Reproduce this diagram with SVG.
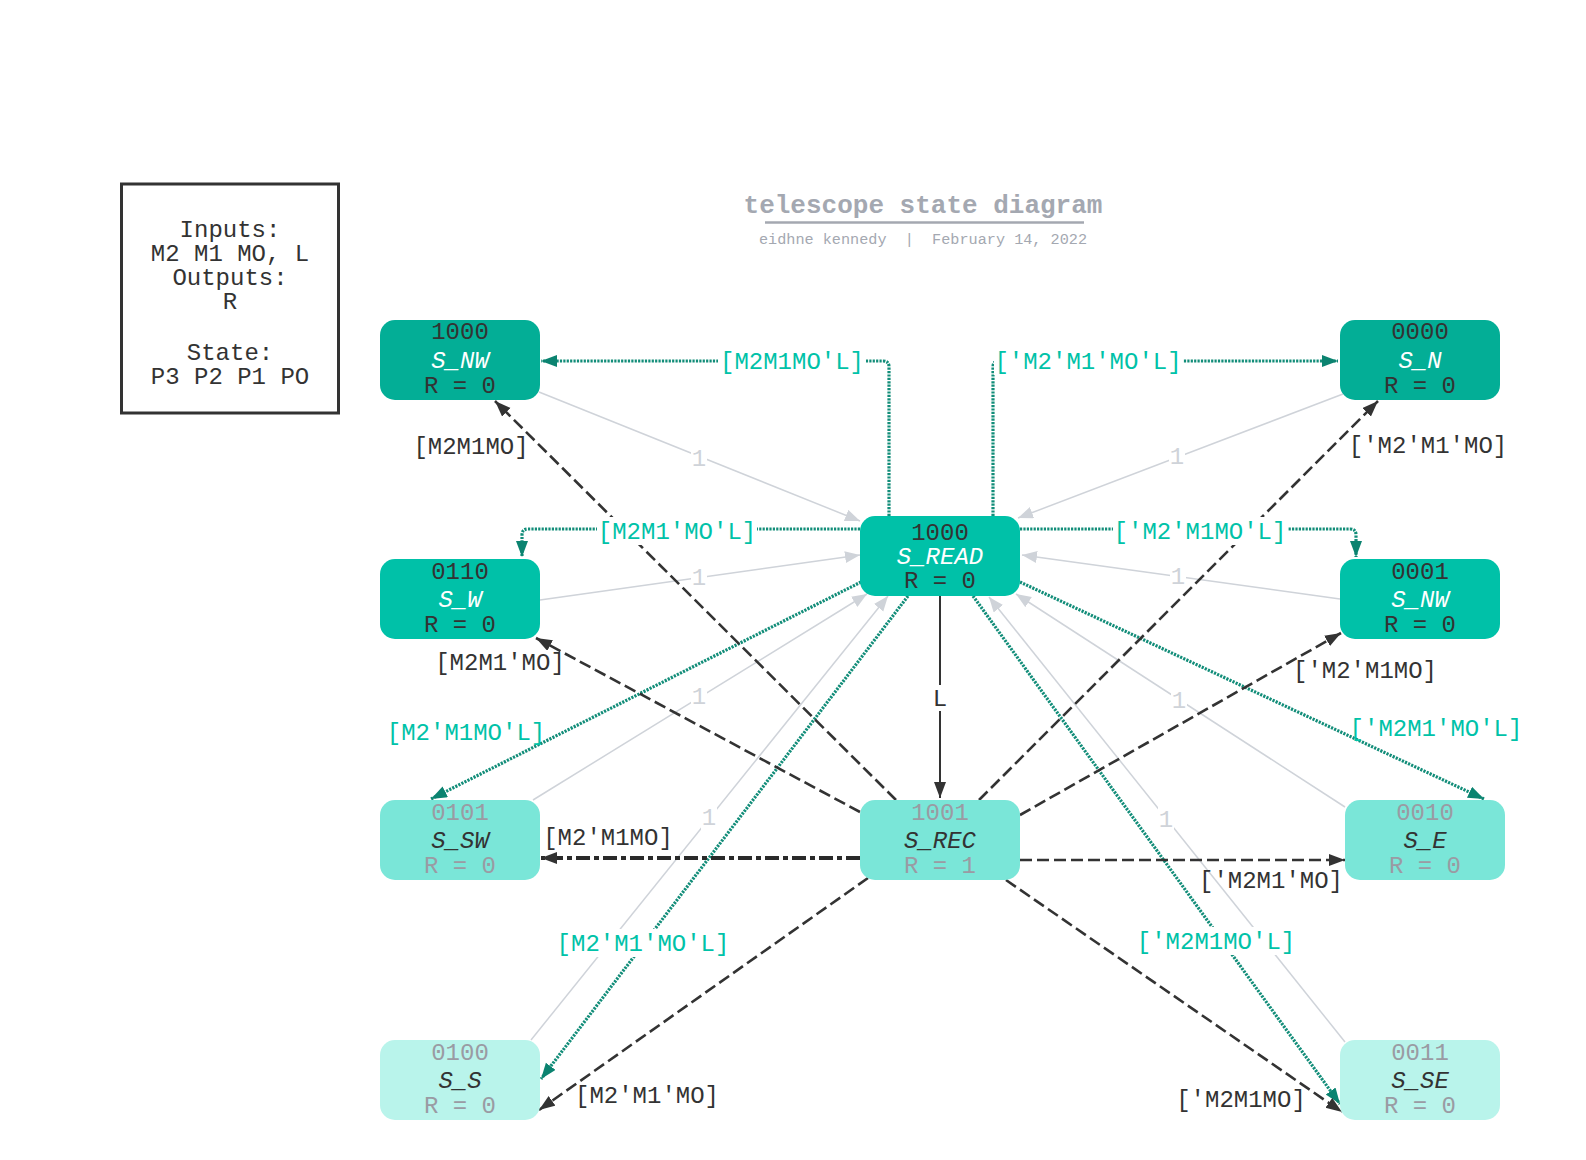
<svg xmlns="http://www.w3.org/2000/svg" width="1586" height="1160" viewBox="0 0 1586 1160">
<style>
text{font-family:"Liberation Mono","DejaVu Sans Mono",monospace;text-anchor:middle}
.code{font-size:24px}
.name{font-size:24px;font-style:italic}
.dk{fill:#333333}
.wh{fill:#ffffff}
.lt{fill:#9a9ba3}
.grey{fill:none;stroke:#cfd3d9;stroke-width:1.5;marker-end:url(#ag)}
.teal{fill:none;stroke:#128d79;stroke-width:3.2;stroke-dasharray:2.2 1.2;marker-end:url(#at)}
.blk{fill:none;stroke:#333333;stroke-width:2.6;stroke-dasharray:12 5;marker-end:url(#ab)}
.blk2{fill:none;stroke:#2a2a2a;stroke-width:4;stroke-dasharray:14 4 5 4;marker-end:url(#ab)}
.solid{fill:none;stroke:#333333;stroke-width:2;marker-end:url(#ab)}
.tl{font-size:24px;fill:#00c2a8}
.bl{font-size:24px;fill:#333333}
.gl{font-size:24px;fill:#cfd3d9}
.bg{fill:#ffffff}
</style>
<defs>
<marker id="ab" markerUnits="userSpaceOnUse" markerWidth="18" markerHeight="14" refX="16" refY="6" orient="auto"><path d="M0,0 L16,6 L0,12 z" fill="#333333"/></marker>
<marker id="at" markerUnits="userSpaceOnUse" markerWidth="18" markerHeight="14" refX="16" refY="6" orient="auto"><path d="M0,0 L16,6 L0,12 z" fill="#0b8370"/></marker>
<marker id="ag" markerUnits="userSpaceOnUse" markerWidth="18" markerHeight="14" refX="15" refY="6" orient="auto"><path d="M0,0 L15,6 L0,12 z" fill="#cfd3d9"/></marker>
</defs>
<rect width="1586" height="1160" fill="#ffffff"/>

<g id="title">
<text x="923" y="213" style="font-size:26px;font-weight:bold;fill:#a4a8b1">telescope state diagram</text>
<line x1="765" y1="222.5" x2="1084" y2="222.5" stroke="#a4a8b1" stroke-width="2.5"/>
<text x="923" y="244" style="font-size:15.2px;fill:#a4a8b1" xml:space="preserve">eidhne kennedy  |  February 14, 2022</text>
</g>

<g id="legend">
<rect x="121.5" y="184" width="217" height="229" fill="#ffffff" stroke="#333333" stroke-width="3"/>
<text class="code dk" x="230" y="237">Inputs:</text>
<text class="code dk" x="230" y="261">M2 M1 MO, L</text>
<text class="code dk" x="230" y="285">Outputs:</text>
<text class="code dk" x="230" y="309">R</text>
<text class="code dk" x="230" y="360">State:</text>
<text class="code dk" x="230" y="384">P3 P2 P1 PO</text>
</g>

<g id="connectors">
<!-- grey "1" edges back to S_READ -->
<path class="grey" d="M539,392 L860,521"/>
<path class="grey" d="M1343,394 L1018,518"/>
<path class="grey" d="M540,600 L860,555"/>
<path class="grey" d="M1340,599 L1022,555"/>
<path class="grey" d="M533,800 L867,594"/>
<path class="grey" d="M1345,807 L1016,594"/>
<path class="grey" d="M531,1040 L888,596"/>
<path class="grey" d="M1345,1042 L989,597"/>
<!-- teal dotted edges from S_READ -->
<path class="teal" d="M889,516 V367 Q889,361 883,361 H541"/>
<path class="teal" d="M993,516 V367 Q993,361 999,361 H1338"/>
<path class="teal" d="M860,529 H528 Q522,529 522,535 V557"/>
<path class="teal" d="M1020,529 H1350 Q1356,529 1356,535 V557"/>
<path class="teal" d="M861,582 L431,799"/>
<path class="teal" d="M1020,582 L1484,799"/>
<path class="teal" d="M908,596 L541,1079"/>
<path class="teal" d="M973,596 L1340,1104"/>
<!-- L -->
<path class="solid" d="M940,596 V798"/>
<!-- black dashed edges from S_REC -->
<path class="blk" d="M896,800 L495,401"/>
<path class="blk" d="M979,800 L1378,401"/>
<path class="blk" d="M860,812 L536,638"/>
<path class="blk" d="M1020,815 L1341,633"/>
<path class="blk2" d="M860,858 L541,858"/>
<path class="blk" d="M1020,860 L1345,860"/>
<path class="blk" d="M868,878 L539,1110"/>
<path class="blk" d="M1006,880 L1342,1112"/>

<!-- label backgrounds -->
<rect class="bg" x="718" y="347" width="148" height="28"/>
<rect class="bg" x="994" y="347" width="189" height="28"/>
<rect class="bg" x="597" y="517" width="160" height="28"/>
<rect class="bg" x="1113" y="517" width="175" height="28"/>
<rect class="bg" x="556" y="929" width="175" height="28"/>
<rect class="bg" x="1136" y="927" width="160" height="28"/>
<rect class="bg" x="931" y="685" width="18" height="26"/>
<rect class="bg" x="691" y="445" width="16" height="26"/>
<rect class="bg" x="1169" y="443" width="16" height="26"/>
<rect class="bg" x="691" y="564" width="16" height="26"/>
<rect class="bg" x="1170" y="563" width="16" height="26"/>
<rect class="bg" x="691" y="683" width="16" height="26"/>
<rect class="bg" x="1171" y="687" width="16" height="26"/>
<rect class="bg" x="701" y="804" width="16" height="26"/>
<rect class="bg" x="1158" y="806" width="16" height="26"/>

<!-- labels -->
<text class="gl" x="699" y="466">1</text>
<text class="gl" x="1177" y="464">1</text>
<text class="gl" x="699" y="585">1</text>
<text class="gl" x="1178" y="584">1</text>
<text class="gl" x="699" y="704">1</text>
<text class="gl" x="1179" y="708">1</text>
<text class="gl" x="709" y="825">1</text>
<text class="gl" x="1166" y="827">1</text>

<text class="tl" x="792" y="369">[M2M1MO'L]</text>
<text class="tl" x="1088" y="369">['M2'M1'MO'L]</text>
<text class="tl" x="677" y="539">[M2M1'MO'L]</text>
<text class="tl" x="1200" y="539">['M2'M1MO'L]</text>
<text class="tl" x="466" y="740">[M2'M1MO'L]</text>
<text class="tl" x="1436" y="736">['M2M1'MO'L]</text>
<text class="tl" x="643" y="951">[M2'M1'MO'L]</text>
<text class="tl" x="1216" y="949">['M2M1MO'L]</text>

<text class="bl" x="940" y="706">L</text>
<text class="bl" x="471" y="454">[M2M1MO]</text>
<text class="bl" x="1428" y="453">['M2'M1'MO]</text>
<text class="bl" x="500" y="670">[M2M1'MO]</text>
<text class="bl" x="1365" y="678">['M2'M1MO]</text>
<text class="bl" x="608" y="845">[M2'M1MO]</text>
<text class="bl" x="1271" y="888">['M2M1'MO]</text>
<text class="bl" x="647" y="1103">[M2'M1'MO]</text>
<text class="bl" x="1241" y="1107">['M2M1MO]</text>
</g>

<g id="s_nw">
<rect x="380" y="320" width="160" height="80" rx="15" fill="#03ae96"/>
<text class="code dk" x="460" y="339">1000</text>
<text class="name wh" x="460" y="368">S_NW</text>
<text class="code dk" x="460" y="393">R = 0</text>
</g>
<g id="s_n">
<rect x="1340" y="320" width="160" height="80" rx="15" fill="#03ae96"/>
<text class="code dk" x="1420" y="339">0000</text>
<text class="name wh" x="1420" y="368">S_N</text>
<text class="code dk" x="1420" y="393">R = 0</text>
</g>
<g id="s_read">
<rect x="860" y="516" width="160" height="80" rx="15" fill="#00c1a8"/>
<text class="code dk" x="940" y="540">1000</text>
<text class="name wh" x="940" y="564">S_READ</text>
<text class="code dk" x="940" y="588">R = 0</text>
</g>
<g id="s_w">
<rect x="380" y="559" width="160" height="80" rx="15" fill="#00c1a8"/>
<text class="code dk" x="460" y="579">0110</text>
<text class="name wh" x="460" y="607">S_W</text>
<text class="code dk" x="460" y="632">R = 0</text>
</g>
<g id="s_nw2">
<rect x="1340" y="559" width="160" height="80" rx="15" fill="#00c1a8"/>
<text class="code dk" x="1420" y="579">0001</text>
<text class="name wh" x="1420" y="607">S_NW</text>
<text class="code dk" x="1420" y="632">R = 0</text>
</g>
<g id="s_sw">
<rect x="380" y="800" width="160" height="80" rx="15" fill="#7ae6d8"/>
<text class="code lt" x="460" y="820">0101</text>
<text class="name dk" x="460" y="848">S_SW</text>
<text class="code lt" x="460" y="873">R = 0</text>
</g>
<g id="s_rec">
<rect x="860" y="800" width="160" height="80" rx="15" fill="#7ae6d8"/>
<text class="code lt" x="940" y="820">1001</text>
<text class="name dk" x="940" y="848">S_REC</text>
<text class="code lt" x="940" y="873">R = 1</text>
</g>
<g id="s_e">
<rect x="1345" y="800" width="160" height="80" rx="15" fill="#7ae6d8"/>
<text class="code lt" x="1425" y="820">0010</text>
<text class="name dk" x="1425" y="848">S_E</text>
<text class="code lt" x="1425" y="873">R = 0</text>
</g>
<g id="s_s">
<rect x="380" y="1040" width="160" height="80" rx="15" fill="#b9f4eb"/>
<text class="code lt" x="460" y="1060">0100</text>
<text class="name dk" x="460" y="1088">S_S</text>
<text class="code lt" x="460" y="1113">R = 0</text>
</g>
<g id="s_se">
<rect x="1340" y="1040" width="160" height="80" rx="15" fill="#b9f4eb"/>
<text class="code lt" x="1420" y="1060">0011</text>
<text class="name dk" x="1420" y="1088">S_SE</text>
<text class="code lt" x="1420" y="1113">R = 0</text>
</g>
</svg>
